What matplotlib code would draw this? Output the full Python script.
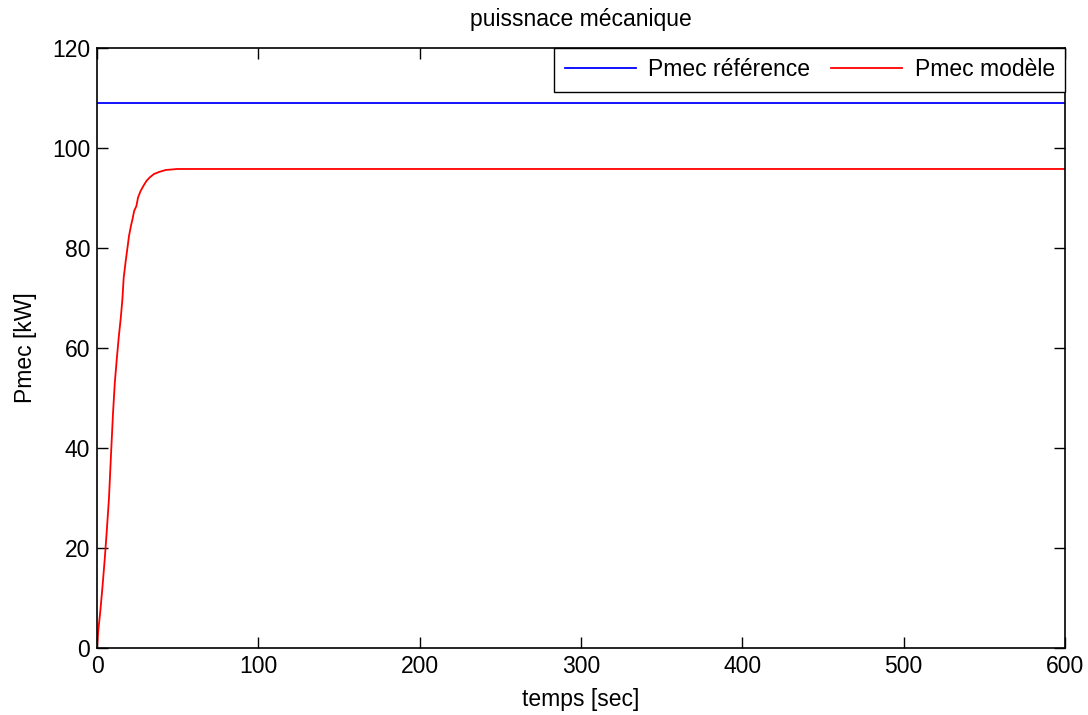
import numpy as np
import matplotlib
matplotlib.use("Agg")
import matplotlib.pyplot as plt

plt.rcParams["font.family"] = ["Liberation Sans", "DejaVu Sans"]

# Puissance mécanique de référence (constante) et réponse du modèle
t_final = 600
p_reference = 109.0

t_modele = [0, 0.8, 2, 3.3, 4.75, 6, 7.4, 8.7, 9.9, 11, 12.2, 13.4, 14.7, 15.7,
            16.5, 17.8, 19, 19.8, 21, 22, 23, 24.4, 25.4, 27, 28.7, 30.6, 32.6,
            35.3, 38.4, 42.6, 49.8, 600]
p_modele = [0, 3.6, 7.3, 12, 17.7, 23.3, 30, 39, 47, 53, 57.7, 62, 66, 69.7,
            74, 77.5, 80.4, 82.4, 84.4, 85.8, 87.4, 88.4, 90.1, 91.4, 92.4, 93.4,
            94.1, 94.8, 95.2, 95.6, 95.8, 95.8]

fs = 16.5

fig = plt.figure(figsize=(10.88, 7.15), dpi=100)
ax = fig.add_axes([0.0892, 0.0937, 0.8897, 0.8392])

ax.plot([0, t_final], [p_reference, p_reference], color="#0000ff", linewidth=1.3,
        label="Pmec référence")
ax.plot(t_modele, p_modele, color="#ff0000", linewidth=1.3, label="Pmec modèle")

ax.set_xlim(0, 600)
ax.set_ylim(0, 120)
ax.set_xticks(np.arange(0, 601, 100))
ax.set_yticks(np.arange(0, 121, 20))
ax.tick_params(direction="in", length=8, width=1, top=True, right=True,
               labelsize=fs, pad=5)
for s in ax.spines.values():
    s.set_linewidth(1.2)

ax.set_title("puissnace mécanique", fontsize=fs, pad=16)
ax.set_xlabel("temps [sec]", fontsize=fs, labelpad=7)
ax.set_ylabel("Pmec [kW]", fontsize=fs, labelpad=11)

leg = ax.legend(loc="upper right", ncol=2, fontsize=fs, fancybox=False,
                framealpha=1, edgecolor="black", handlelength=3.1,
                handletextpad=0.55, borderaxespad=0, columnspacing=0.9,
                borderpad=0.45)
leg.get_frame().set_linewidth(1.0)

fig.savefig("out.png", dpi=100)
